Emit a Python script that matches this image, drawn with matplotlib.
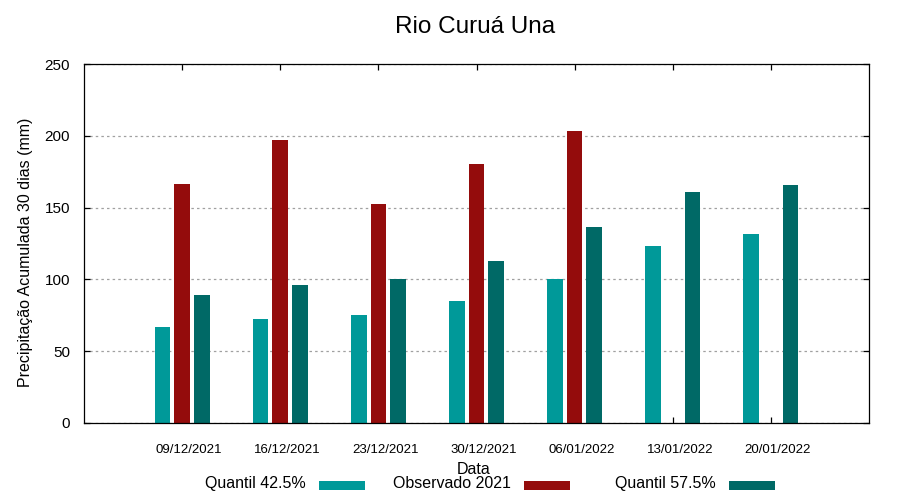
import matplotlib
matplotlib.use('Agg')
import matplotlib.pyplot as plt
import numpy as np
from matplotlib.transforms import ScaledTranslation
from matplotlib.patches import Rectangle

plt.rcParams['font.family'] = ['Liberation Sans', 'DejaVu Sans']

# ---- data ----
dates = ['09/12/2021', '16/12/2021', '23/12/2021', '30/12/2021',
         '06/01/2022', '13/01/2022', '20/01/2022']
quantil_425 = [67, 72.5, 75, 85, 100, 123.5, 131.5]
observado_2021 = [166.5, 197, 152.5, 180.5, 203.5, np.nan, np.nan]
quantil_575 = [89, 96, 100, 112.5, 136.5, 161, 166]
series_names = ['Quantil 42.5%', 'Observado 2021', 'Quantil 57.5%']
series_colors = ['#009999', '#940c0c', '#006966']
yticks = [0, 50, 100, 150, 200, 250]

title = 'Rio Curuá Una'
xlabel = 'Data'
ylabel = 'Precipitação Acumulada 30 dias (mm)'

# ---- figure ----
W, H = 900, 500
fig = plt.figure(figsize=(9, 5), dpi=100)
ax = fig.add_axes([84 / W, 1 - 423 / H, 785 / W, 359 / H])

x = np.arange(len(dates))
offsets = [-0.2, 0.0, 0.2]
width = 0.16
all_series = [quantil_425, observado_2021, quantil_575]
for vals, off, col, name in zip(all_series, offsets, series_colors, series_names):
    ax.bar(x + off, vals, width=width, color=col, label=name, zorder=2, linewidth=0)

ax.set_xlim(-1, 7)
ax.set_ylim(0, 250)
ax.set_yticks(yticks)
ax.set_yticklabels([str(v) for v in yticks], fontsize=11)
ax.set_xticks(x)
ax.set_xticklabels(dates, fontsize=9.5)
ax.tick_params(axis='both', direction='in', top=True, right=True,
               length=4, width=0.9, color='black')
ax.tick_params(axis='y', pad=10)
ax.tick_params(axis='x', pad=15)
shift = ScaledTranslation(7 / 100, 0, fig.dpi_scale_trans)
for lbl in ax.get_xticklabels():
    lbl.set_transform(lbl.get_transform() + shift)

ax.yaxis.grid(True, color='#a0a0a0', linestyle=(0, (2, 2.5)), linewidth=0.9, zorder=0)
ax.set_axisbelow(True)
for sp in ax.spines.values():
    sp.set_linewidth(0.9)
    sp.set_zorder(3)

ax.set_title(title, fontsize=17.5, x=(475 - 84) / 785, y=(423 - 32.7) / 359,
             va='baseline', pad=0)
ax.set_xlabel(xlabel, fontsize=11.5, va='baseline')
ax.xaxis.set_label_coords((474 - 84) / 785, (423 - 474.3) / 359)
ax.set_ylabel(ylabel, fontsize=11.5, va='center', ha='center')
ax.yaxis.set_label_coords((25.5 - 84) / 785, (423 - 252) / 359)

# ---- legend (gnuplot-style, right-justified text followed by sample box) ----
text_right0 = 306
stride = 205
box_gap = 13
box_w, box_h = 46, 9
baseline_y = 488
box_bottom = 490
for i, (name, col) in enumerate(zip(series_names, series_colors)):
    tr = text_right0 + i * stride
    fig.text(tr / W, 1 - baseline_y / H, name, ha='right', va='baseline', fontsize=11.5)
    fig.patches.append(Rectangle(((tr + box_gap) / W, 1 - box_bottom / H),
                                 box_w / W, box_h / H, transform=fig.transFigure,
                                 facecolor=col, edgecolor='none'))

fig.savefig('out.png', dpi=100)
